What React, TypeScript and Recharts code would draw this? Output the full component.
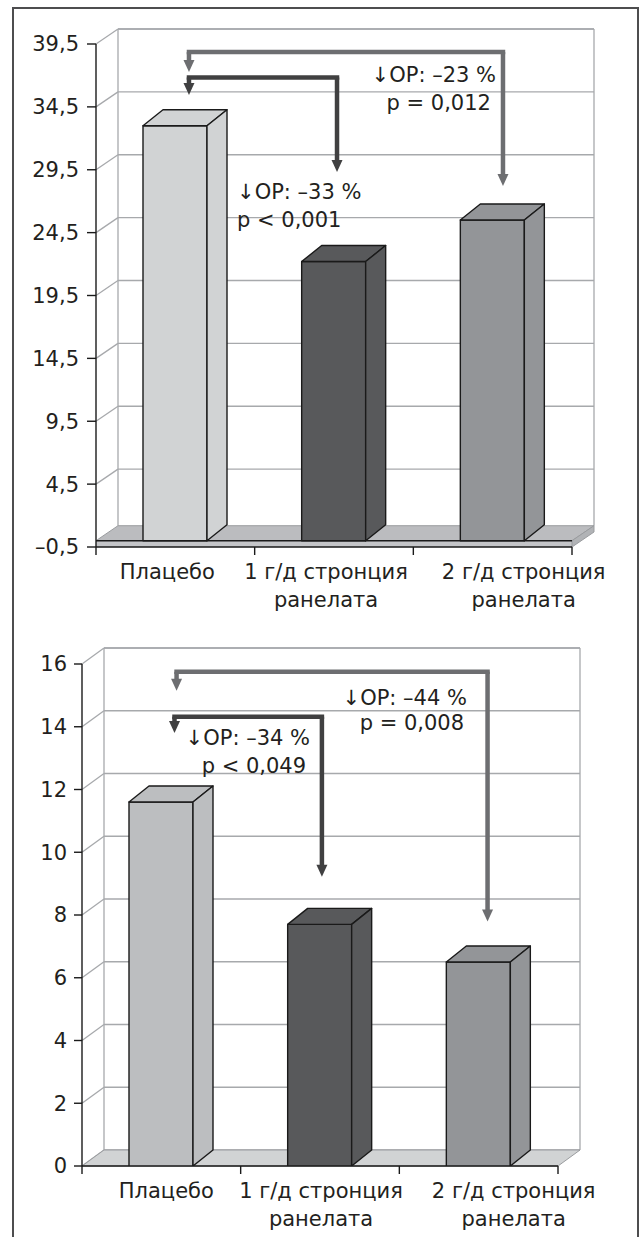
import React from "react";
import {
  ComposedChart,
  Bar,
  XAxis,
  YAxis,
  CartesianGrid,
  ReferenceArea,
  ReferenceLine,
  ReferenceDot,
  Cell,
} from "recharts";

// ---------- data ----------
const categories = ["Плацебо", "1 г/д стронция\nранелата", "2 г/д стронция\nранелата"];
const topValues = [33.0, 22.2, 25.5];
const bottomValues = [11.6, 7.7, 6.5];
const topTicks = [-0.5, 4.5, 9.5, 14.5, 19.5, 24.5, 29.5, 34.5, 39.5];
const bottomTicks = [0, 2, 4, 6, 8, 10, 12, 14, 16];

const topNotes = [
  { text: "↓ОР: –23 %", x: 2.521, y: 36.48, anchor: "end" },
  { text: "p = 0,012", x: 2.489, y: 34.25, anchor: "end" },
  { text: "↓ОР: –33 %", x: 0.889, y: 27.17, anchor: "start" },
  { text: "p < 0,001", x: 0.889, y: 24.95, anchor: "start" },
];
const bottomNotes = [
  { text: "↓ОР: –44 %", x: 2.426, y: 14.69, anchor: "end" },
  { text: "p = 0,008", x: 2.408, y: 13.9, anchor: "end" },
  { text: "↓ОР: –34 %", x: 1.437, y: 13.42, anchor: "end" },
  { text: "p < 0,049", x: 1.412, y: 12.53, anchor: "end" },
];

const topArrows = [
  { kind: "gray", left: 0.586, right: 2.565, top: 38.86, leftTip: 37.27, rightTip: 28.21 },
  { kind: "dark", left: 0.586, right: 1.519, top: 36.84, leftTip: 35.44, rightTip: 29.32 },
];
const bottomArrows = [
  { kind: "gray", left: 0.596, right: 2.556, top: 15.75, leftTip: 15.15, rightTip: 7.79 },
  { kind: "dark", left: 0.583, right: 1.512, top: 14.32, leftTip: 13.8, rightTip: 9.22 },
];

// ---------- styles ----------
const FONT = "DejaVu Sans";
const TEXT = "#231f20";
const GRID = "#a7a9ac";
const ARROW_COLORS: Record<string, string> = { gray: "#6d6e71", dark: "#404041" };
const topColors = ["#d1d3d4", "#58595b", "#939598"];
const bottomColors = ["#bcbec0", "#58595b", "#939598"];

const fmt = (v: number) => String(v).replace(".", ",").replace("-", "–");

const makeBar3D = (dx: number, dy: number) => (p: any) => {
  const { x, y, width: w, height: h, fill } = p;
  if (w == null || h == null) return <g />;
  return (
    <g stroke="#1a1a1a" strokeWidth={1.4} strokeLinejoin="round">
      <rect x={x} y={y} width={w} height={h} fill={fill} />
      <polygon
        points={`${x},${y} ${x + dx},${y - dy} ${x + w + dx},${y - dy} ${x + w},${y}`}
        fill={fill}
      />
      <polygon
        points={`${x + w},${y} ${x + w + dx},${y - dy} ${x + w + dx},${y + h - dy} ${x + w},${y + h}`}
        fill={fill}
      />
    </g>
  );
};

const makeGridLine = (dx: number, dy: number) => (p: any) => {
  const { x1, x2, y1 } = p;
  return (
    <g key={p.key} stroke={GRID} strokeWidth={1.3} fill="none">
      <line x1={x1 + dx} y1={y1 - dy} x2={x2 + dx} y2={y1 - dy} />
      <line x1={x1} y1={y1} x2={x1 + dx} y2={y1 - dy} />
    </g>
  );
};

const makeWall =
  (dx: number, dy: number, floorFill: string, drawAxis: boolean, n: number) => (p: any) => {
    const { x, y, width: w, height: h } = p;
    const fy = y + h;
    return (
      <g>
        <g stroke={GRID} strokeWidth={1.3} fill="none">
          <line x1={x + dx} y1={y - dy} x2={x + dx} y2={fy - dy} />
          <line x1={x + dx} y1={y - dy} x2={x + w + dx} y2={y - dy} />
          <line x1={x + w + dx} y1={y - dy} x2={x + w + dx} y2={fy - dy} />
        </g>
        <polygon
          points={`${x},${fy} ${x + dx},${fy - dy} ${x + w + dx},${fy - dy} ${x + w},${fy}`}
          fill={floorFill}
          stroke="#9a9c9f"
          strokeWidth={1}
        />
        {drawAxis && (
          <g stroke="#1a1a1a" strokeWidth={1.4}>
            <line x1={x} y1={fy} x2={x + w} y2={fy} />
            {Array.from({ length: n + 1 }).map((_, i) => (
              <line key={i} x1={x + (i * w) / n} y1={fy} x2={x + (i * w) / n} y2={fy + 8} />
            ))}
          </g>
        )}
      </g>
    );
  };

const makeSlab = (dx: number, dy: number, n: number) => (p: any) => {
  const { x, y, width: w, height: h } = p;
  return (
    <g>
      <rect x={x} y={y} width={w} height={h} fill="#c4c5c8" />
      <polygon
        points={`${x + w},${y} ${x + w + dx},${y - dy} ${x + w + dx},${y + h - dy} ${x + w},${y + h}`}
        fill="#b1b3b6"
        stroke="#9a9c9f"
        strokeWidth={1}
      />
      <g stroke="#1a1a1a" strokeWidth={1.4}>
        <line x1={x} y1={y} x2={x + w} y2={y} />
        <line x1={x} y1={y + h} x2={x + w} y2={y + h} />
        {Array.from({ length: n + 1 }).map((_, i) => (
          <line key={i} x1={x + (i * w) / n} y1={y + h} x2={x + (i * w) / n} y2={y + h + 8} />
        ))}
      </g>
    </g>
  );
};

const makeCatTick = (offsets: number[]) => (p: any) => {
  const { x, y, payload } = p;
  const idx = Math.floor(Number(payload.value));
  const label = categories[idx] ?? "";
  const lines = label.split("\n");
  const cx = x + (offsets[idx] || 0);
  return (
    <text textAnchor="middle" fontFamily={FONT} fontSize={21} fill={TEXT}>
      {lines.map((l, i) => (
        <tspan key={i} x={cx} y={y + 32 + i * 28}>
          {l}
        </tspan>
      ))}
    </text>
  );
};

const vArrowShape = (color: string) => (p: any) => {
  const { x1, y1, x2, y2 } = p;
  const head = 12;
  return (
    <g>
      <line x1={x1} y1={y1} x2={x2} y2={y2 - head + 1} stroke={color} strokeWidth={4.5} />
      <polygon points={`${x2 - 5.5},${y2 - head} ${x2 + 5.5},${y2 - head} ${x2},${y2}`} fill={color} />
    </g>
  );
};

const hLineShape = (color: string) => (p: any) => {
  const { x1, y1, x2, y2 } = p;
  return (
    <line
      x1={x1}
      y1={y1}
      x2={x2}
      y2={y2}
      stroke={color}
      strokeWidth={4.5}
      strokeLinecap="square"
    />
  );
};

const noteShape = (text: string, anchor: string) => (p: any) => (
  <text
    x={p.cx}
    y={p.cy}
    textAnchor={anchor as any}
    fontFamily={FONT}
    fontSize={21}
    fill={TEXT}
  >
    {text}
  </text>
);

type PanelProps = {
  values: number[];
  colors: string[];
  ticks: number[];
  domain: [number, number];
  floorValue: number;
  slab: boolean;
  height: number;
  yWidth: number;
  rightMargin: number;
  xHeight: number;
  dx: number;
  dy: number;
  floorFill: string;
  labelOffsets: number[];
  notes: typeof topNotes;
  arrows: typeof topArrows;
  tickSize: number;
  tickMargin: number;
};

function Panel(props: PanelProps) {
  const data = categories.map((name, i) => ({ name, pos: i + 0.5, value: props.values[i] }));
  const n = categories.length;
  const positions = data.map((d) => d.pos);
  return (
    <ComposedChart
      width={642}
      height={props.height}
      data={data}
      margin={{ top: 44, right: props.rightMargin, bottom: 3, left: 0 }}
    >
      <CartesianGrid
        vertical={false}
        horizontalValues={props.ticks.filter((t) => t >= props.floorValue)}
        horizontal={makeGridLine(props.dx, props.dy)}
      />
      <XAxis
        dataKey="pos"
        type="number"
        domain={[0, n]}
        ticks={positions}
        allowDataOverflow
        interval={0}
        axisLine={false}
        tickLine={false}
        tickSize={0}
        tickMargin={0}
        height={props.xHeight}
        tick={makeCatTick(props.labelOffsets)}
      />
      <YAxis
        type="number"
        domain={props.domain}
        ticks={props.ticks}
        interval={0}
        allowDataOverflow
        width={props.yWidth}
        tickFormatter={fmt}
        tickSize={props.tickSize}
        tickMargin={props.tickMargin}
        axisLine={{ stroke: "#1a1a1a", strokeWidth: 1.4 }}
        tickLine={{ stroke: "#1a1a1a", strokeWidth: 1.4 }}
        tick={{ fontFamily: FONT, fontSize: 21, fill: TEXT }}
      />
      <ReferenceArea
        x1={0}
        x2={n}
        y1={props.floorValue}
        y2={props.domain[1]}
        ifOverflow="visible"
        shape={makeWall(props.dx, props.dy, props.floorFill, !props.slab, n)}
      />
      {props.slab && (
        <ReferenceArea
          x1={0}
          x2={n}
          y1={props.domain[0]}
          y2={props.floorValue}
          ifOverflow="visible"
          shape={makeSlab(props.dx, props.dy, n)}
        />
      )}
      <Bar dataKey="value" barSize={64} isAnimationActive={false} shape={makeBar3D(20, 16)}>
        {data.map((d, i) => (
          <Cell key={d.name} fill={props.colors[i]} />
        ))}
      </Bar>
      {props.arrows.map((a, i) => {
        const c = ARROW_COLORS[a.kind];
        return [
          <ReferenceLine
            key={`h${i}`}
            ifOverflow="visible"
            segment={[
              { x: a.left, y: a.top },
              { x: a.right, y: a.top },
            ]}
            shape={hLineShape(c)}
          />,
          <ReferenceLine
            key={`l${i}`}
            ifOverflow="visible"
            segment={[
              { x: a.left, y: a.top },
              { x: a.left, y: a.leftTip },
            ]}
            shape={vArrowShape(c)}
          />,
          <ReferenceLine
            key={`r${i}`}
            ifOverflow="visible"
            segment={[
              { x: a.right, y: a.top },
              { x: a.right, y: a.rightTip },
            ]}
            shape={vArrowShape(c)}
          />,
        ];
      })}
      {props.notes.map((t, i) => (
        <ReferenceDot
          key={`t${i}`}
          ifOverflow="visible"
          x={t.x}
          y={t.y}
          r={0}
          shape={noteShape(t.text, t.anchor)}
        />
      ))}
    </ComposedChart>
  );
}

export default function App() {
  return (
    <div
      style={{
        position: "absolute",
        left: 0,
        top: 0,
        width: 642,
        height: 1237,
        overflow: "hidden",
        background: "#fff",
      }}
    >
      <div
        style={{
          position: "absolute",
          left: 12,
          top: 7,
          width: 627,
          height: 1300,
          boxSizing: "border-box",
          border: "2px solid #4d4d4f",
        }}
      />
      <div style={{ position: "absolute", left: 0, top: 0 }}>
        <Panel
          values={topValues}
          colors={topColors}
          ticks={topTicks}
          domain={[-0.5, 39.5]}
          floorValue={0}
          slab={true}
          height={620}
          yWidth={96}
          rightMargin={70}
          xHeight={70}
          dx={22}
          dy={15}
          floorFill="#bbbcbf"
          labelOffsets={[-8, -8, 31]}
          notes={topNotes}
          arrows={topArrows}
          tickSize={9}
          tickMargin={8}
        />
      </div>
      <div style={{ position: "absolute", left: 0, top: 620 }}>
        <Panel
          values={bottomValues}
          colors={bottomColors}
          ticks={bottomTicks}
          domain={[0, 16]}
          floorValue={0}
          slab={false}
          height={617}
          yWidth={82}
          rightMargin={84}
          xHeight={68}
          dx={22}
          dy={16}
          floorFill="#d1d3d4"
          labelOffsets={[5, 1, 35]}
          notes={bottomNotes}
          arrows={bottomArrows}
          tickSize={8}
          tickMargin={7}
        />
      </div>
    </div>
  );
}
